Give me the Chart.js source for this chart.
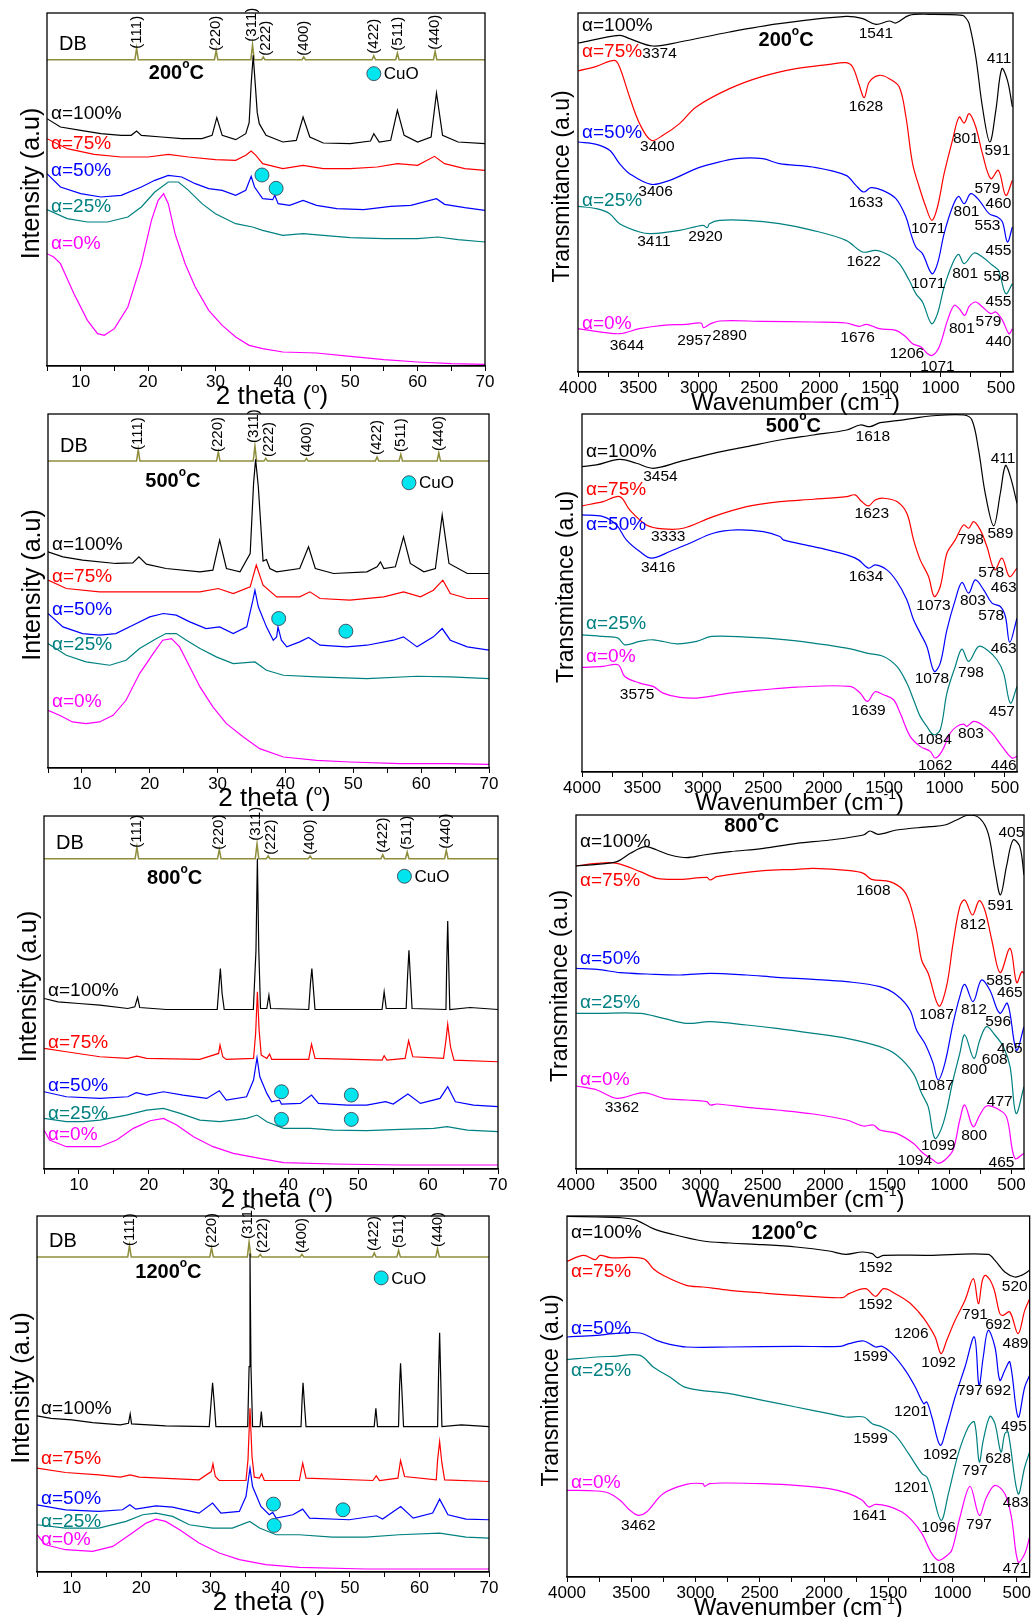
<!DOCTYPE html>
<html>
<head>
<meta charset="utf-8">
<script src="https://cdn.jsdelivr.net/npm/chart.js@4.4.0/dist/chart.umd.min.js"></script>
<style>
  body { margin: 0; background: #fff; width: 1032px; height: 1617px; position: relative; overflow: hidden; }
  canvas { position: absolute; }
</style>
</head>
<body>
<script>
// ---- series names / colours ----
const seriesNames = ['α=100%', 'α=75%', 'α=50%', 'α=25%', 'α=0%'];
const seriesColors = ['#000000', '#ff0000', '#0000ff', '#008080', '#ff00ff'];

// ---- tick labels ----
const xrdTicks = [10, 20, 30, 40, 50, 60, 70];
const irTicks = [4000, 3500, 3000, 2500, 2000, 1500, 1000, 500];

// ---- DB reference pattern (spinel) ----
const dbPeaks = [18.3, 30.1, 35.5, 37.1, 43.1, 53.5, 57.0, 62.6];
const dbHkl = ['(111)', '(220)', '(311)', '(222)', '(400)', '(422)', '(511)', '(440)'];
const dbHeights = [35, 28, 45, 8, 8, 12, 20, 25];

// ---- XRD 200 C: [2theta, intensity a.u.] ----
const xrd200_100 = [[5,742],[7,717],[10,707],[13,697],[16,692],[17.5,692],[18.3,705],[19,692],[22,687],[25,682],[28,682],[29.5,692],[30.2,745],[31,692],[33,679],[34.5,697],[35,730],[35.3,847],[35.6,932],[35.9,847],[36.2,760],[36.5,727],[37.5,692],[40,672],[42,677],[43,747],[44,687],[46,669],[50,667],[53,675],[53.5,697],[54.3,672],[56,677],[57,767],[58,692],[60,672],[62,687],[62.8,819],[63.7,692],[66,672],[70,667]];
const xrd200_75 = [[5,682],[8,652],[12,635],[16,627],[20,627],[23,635],[26,627],[30,619],[33,617],[34.5,632],[35.3,645],[36,632],[37,607],[40,592],[43,602],[46,592],[50,592],[54,597],[57,607],[60,602],[62.5,629],[64,607],[67,592],[70,587]];
const xrd200_50 = [[5,577],[7,537],[10,517],[13,507],[16,512],[19,537],[21,557],[23,572],[25,567],[27,547],[29,532],[31,527],[33,512],[34.5,527],[35.3,569],[35.8,537],[37,502],[38.5,499],[38.8,512],[39.3,487],[41,482],[43,497],[45,482],[48,472],[52,469],[56,479],[59,482],[62.8,502],[64,485],[67,475],[70,467]];
const xrd200_25 = [[5,469],[8,442],[11,432],[14,432],[17,447],[19,477],[21,522],[23,552],[24.5,552],[26,527],[28,487],[30,457],[33,427],[35.5,417],[37,407],[40,392],[43,397],[46,392],[50,385],[55,382],[60,382],[63,387],[66,379],[70,372]];
const xrd200_0 = [[5,337],[6,327],[7,307],[9,217],[11,137],[12.5,97],[13.5,92],[15,112],[17,177],[19,307],[20.5,437],[21.5,497],[22.3,517],[23,487],[24,397],[25.5,307],[27,237],[29,167],[31,122],[33,87],[35,62],[37,52],[40,42],[45,39],[50,29],[55,19],[60,12],[65,7],[70,5]];

// ---- XRD 500 C ----
const xrd500_100 = [[5,648],[7.2,633],[10.1,623],[15,613],[17.5,615],[18.4,633],[19.5,611],[22.4,598],[27.4,588],[29.3,593],[30.3,683],[31.3,598],[33.3,588],[34.8,643],[35.3,853],[35.6,925],[36,843],[36.7,620],[37.2,625],[37.7,598],[38.7,588],[42.1,598],[43.4,663],[44.4,598],[47.1,583],[52,588],[53.5,603],[54,618],[54.5,598],[56.2,603],[57.4,693],[58.4,613],[60.4,588],[62.1,598],[63.1,758],[64.1,613],[66.8,583],[70,583]];
const xrd500_75 = [[5,563],[7.7,538],[12.6,528],[20,528],[27.4,528],[30.1,538],[32.3,523],[34.8,543],[35.7,608],[36.7,548],[38.7,513],[42.1,513],[43.6,528],[45.1,508],[49.5,503],[54.5,513],[57.4,528],[59.9,513],[61.8,533],[63.2,563],[64.3,523],[66.8,508],[70,508]];
const xrd500_50 = [[5,463],[7.2,423],[10.1,403],[12.6,398],[15,403],[17.5,428],[20,453],[22,463],[23.9,458],[25.9,438],[28.3,418],[30.3,423],[32.3,403],[34.3,423],[35.2,503],[35.5,533],[36,483],[37.2,423],[38.2,383],[38.7,393],[38.9,423],[39.4,383],[40.2,363],[42.1,378],[43.4,391],[45.1,368],[49,363],[52,368],[55.9,383],[57.4,393],[59.4,363],[61.8,393],[63.1,418],[64.3,383],[66.8,363],[70,353]];
const xrd500_25 = [[5,373],[7.7,338],[10.6,318],[14.1,308],[16.5,323],[18.5,358],[21,388],[22.4,403],[23.9,403],[25.4,383],[27.4,358],[29.8,333],[32.3,313],[35.5,318],[37.2,293],[39.7,278],[44.6,273],[52,268],[59.4,275],[64.3,273],[70,268]];
const xrd500_0 = [[5,173],[6.7,158],[8.6,138],[10.6,133],[12.6,138],[14.6,158],[16.5,203],[18.5,283],[20.5,343],[21.9,383],[23.2,388],[24.4,363],[25.9,303],[27.4,243],[29.3,183],[31.3,133],[33.8,93],[36.2,58],[39.7,33],[44.6,23],[49.5,18],[56.9,13],[64.3,13],[70,11]];

// ---- XRD 800 C ----
const xrd800_100 = [[5,512],[7,502],[10,497],[13,492],[17,482],[18,487],[18.4,515],[18.7,485],[22.5,479],[27.3,479],[29.8,479],[30.05,547],[30.25,602],[30.5,527],[30.8,479],[34.97,479],[35.35,657],[35.55,932],[35.75,657],[36,482],[36.9,482],[37.2,522],[37.45,482],[42.9,479],[43.15,557],[43.35,602],[43.55,547],[43.8,479],[53.4,479],[53.7,532],[54,482],[56.85,482],[57.05,577],[57.25,657],[57.45,577],[57.7,482],[62.55,479],[62.65,607],[62.8,745],[62.95,607],[63.1,479],[66,485],[70,479]];
const xrd800_75 = [[5,362],[8.2,352],[13,337],[17,332],[18.3,339],[19.7,332],[27.3,329],[30,347],[30.2,372],[30.6,337],[31.1,329],[35,332],[35.3,407],[35.55,532],[35.8,417],[36.1,342],[36.9,332],[37.3,345],[37.6,329],[42.9,329],[43.3,375],[43.8,332],[53.4,327],[53.7,340],[54.1,327],[56.7,332],[57.2,385],[57.8,337],[62.2,332],[62.55,387],[62.8,435],[63.2,367],[63.7,327],[70,322]];
const xrd800_50 = [[5,232],[8.2,217],[13,212],[17,217],[18.2,229],[19.7,222],[22.1,232],[24.9,222],[28.3,212],[30.1,235],[31.1,207],[34,217],[35,267],[35.5,334],[35.9,277],[36.9,227],[37.6,202],[38.7,207],[39,195],[41.7,197],[43.3,222],[44.3,197],[48.4,192],[51.2,192],[53.9,202],[55,195],[57.1,225],[58.9,197],[61.7,212],[62.8,247],[63.9,202],[66.5,192],[70,187]];
const xrd800_25 = [[5,152],[8.2,142],[10.6,142],[13,147],[16.8,162],[19.7,177],[22.1,182],[24.5,167],[27.3,147],[30.2,142],[32.1,147],[34,152],[35.5,162],[36.9,142],[39.3,122],[43.1,122],[46.4,117],[51.2,115],[56,119],[60.8,122],[62.7,127],[65.6,117],[70,112]];
const xrd800_0 = [[5,117],[5.8,87],[8.2,67],[13,67],[15.4,87],[17.8,122],[20.2,145],[22.1,152],[24,132],[26.4,97],[29.2,67],[32.1,47],[35.9,32],[39.3,19],[46.4,15],[56,12],[70,12]];

// ---- XRD 1200 C ----
const xrd1200_100 = [[5,469],[7,462],[10,457],[13,449],[17,442],[18.15,447],[18.4,475],[18.6,445],[23.5,439],[29.77,437],[30.06,517],[30.25,569],[30.49,507],[30.73,437],[35.3,437],[35.5,617],[35.63,957],[35.77,617],[36,437],[37.07,437],[37.26,482],[37.45,437],[42.97,437],[43.12,517],[43.26,569],[43.45,507],[43.69,437],[53.49,437],[53.73,492],[53.97,437],[56.99,437],[57.14,557],[57.28,627],[57.47,547],[57.71,437],[62.61,437],[62.75,597],[62.9,719],[63.04,597],[63.23,437],[66.02,442],[70,437]];
const xrd1200_75 = [[5,312],[9.1,299],[13.9,292],[17,285],[18.4,292],[19.7,285],[28.3,277],[30.06,302],[30.3,325],[30.64,287],[31.2,275],[35.05,275],[35.34,337],[35.63,492],[35.92,347],[36.25,285],[36.97,282],[37.31,295],[37.69,275],[42.73,275],[43.21,327],[43.69,282],[53.3,275],[53.78,289],[54.26,275],[56.9,282],[57.28,335],[57.86,287],[62.42,277],[62.61,337],[62.9,392],[63.23,327],[63.62,277],[70,272]];
const xrd1200_50 = [[5,202],[9.1,187],[13.9,182],[17.3,187],[18.35,202],[19.2,189],[22.1,199],[24.5,195],[28.3,177],[30.25,207],[31.45,177],[34.1,182],[35.05,227],[35.63,312],[36,257],[37.2,197],[38.4,172],[38.9,179],[39.4,162],[41.8,172],[43.2,189],[44.2,162],[49.9,157],[53.8,169],[54.7,159],[57.3,197],[59.1,162],[61.9,177],[62.9,219],[64.1,172],[66.7,159],[70,157]];
const xrd1200_25 = [[5,142],[9.1,132],[13.9,132],[17.8,152],[20.2,172],[22.1,177],[24.5,167],[26.9,142],[30.25,132],[33.1,132],[35.6,152],[37,132],[39.4,112],[42.7,112],[47.5,105],[52.3,105],[57.1,112],[62.9,117],[66.7,105],[70,102]];
const xrd1200_0 = [[5,112],[6.2,82],[9.1,67],[13,62],[15.9,77],[18.7,117],[20.7,147],[22.1,159],[23.5,152],[25.5,127],[28.3,87],[31.2,57],[34.1,37],[37.9,22],[42.7,14],[52.3,9],[70,9]];

// ---- FTIR 200 C: [wavenumber, transmittance a.u.] ----
const ir200_100 = [[4000,987],[3656,1010],[3573,1000],[3380,978],[3160,990],[2746,1020],[2333,1045],[1782,1067],[1644,1060],[1534,1043],[1424,1053],[1369,1047],[1259,1070],[1094,1073],[818,1070],[790,1062],[763,1045],[708,945],[653,795],[592,690],[542,785],[493,910],[446,875],[405,795]];
const ir200_75 = [[4000,903],[3848,917],[3697,935],[3656,915],[3573,825],[3490,745],[3394,695],[3297,710],[3160,745],[3022,795],[2746,850],[2471,887],[2195,910],[1920,923],[1782,928],[1727,915],[1672,860],[1631,823],[1589,870],[1507,890],[1424,880],[1341,855],[1286,765],[1231,625],[1176,555],[1121,495],[1071,455],[1025,495],[970,595],[901,695],[846,765],[804,747],[763,775],[708,735],[653,655],[584,580],[521,605],[460,530],[405,575]];
const ir200_50 = [[4000,690],[3848,683],[3738,665],[3656,625],[3573,595],[3394,563],[3242,575],[3022,610],[2884,625],[2691,640],[2471,640],[2333,625],[2058,615],[1782,590],[1700,560],[1636,540],[1576,553],[1479,545],[1369,520],[1286,465],[1245,415],[1204,375],[1149,355],[1071,295],[1025,325],[970,415],[901,495],[851,527],[804,505],[749,535],[680,515],[598,475],[529,465],[487,450],[446,390],[405,435]];
const ir200_25 = [[4000,497],[3848,490],[3738,475],[3656,445],[3490,420],[3394,415],[3160,425],[2967,440],[2930,433],[2912,445],[2829,455],[2609,455],[2333,445],[2058,425],[1782,395],[1644,360],[1534,365],[1424,350],[1341,325],[1259,275],[1204,235],[1149,210],[1074,145],[1025,175],[970,255],[901,325],[851,353],[804,325],[722,357],[653,345],[570,320],[520,305],[460,235],[405,265]];
const ir200_0 = [[4000,130],[3848,122],[3656,115],[3490,130],[3297,140],[3105,143],[2981,147],[2961,133],[2912,143],[2829,153],[2471,152],[2058,150],[1782,147],[1672,137],[1611,143],[1507,130],[1369,125],[1286,105],[1231,85],[1162,75],[1107,55],[1066,50],[1011,75],[942,155],[887,200],[846,190],[799,170],[763,197],[708,210],[653,195],[584,175],[542,180],[487,155],[433,115],[405,130]];

// ---- FTIR 500 C ----
const ir500_100 = [[4000,917],[3881,922],[3688,939],[3550,927],[3411,912],[3190,932],[2914,957],[2638,977],[2362,997],[2085,1012],[1809,1027],[1698,1042],[1616,1037],[1533,1049],[1394,1055],[1256,1062],[1118,1069],[842,1072],[773,1057],[718,967],[663,837],[593,739],[538,837],[496,920],[455,887],[400,807]];
const ir500_75 = [[4000,799],[3826,812],[3688,827],[3605,787],[3467,742],[3329,730],[3163,732],[2914,767],[2638,797],[2362,812],[2085,819],[1809,827],[1740,832],[1685,812],[1629,799],[1574,817],[1505,822],[1394,812],[1312,777],[1256,697],[1201,637],[1132,587],[1085,527],[1035,557],[980,657],[911,697],[842,742],[800,732],[759,752],[704,727],[649,677],[585,607],[524,642],[463,587],[400,612]];
const ir500_50 = [[4000,772],[3826,767],[3715,742],[3633,697],[3522,662],[3425,642],[3273,662],[3108,687],[2914,717],[2721,727],[2500,722],[2362,707],[2334,697],[2085,677],[1809,652],[1712,637],[1629,612],[1574,622],[1477,607],[1394,572],[1312,517],[1256,457],[1201,417],[1146,377],[1085,302],[1035,327],[980,427],[911,517],[856,569],[800,537],[745,577],[676,547],[607,507],[538,497],[496,467],[460,389],[400,462]];
const ir500_25 = [[4000,412],[3826,407],[3702,402],[3646,382],[3522,392],[3411,397],[3218,385],[3052,392],[2928,407],[2638,405],[2306,397],[2085,387],[1809,372],[1643,357],[1505,347],[1394,317],[1312,267],[1256,217],[1201,167],[1146,137],[1091,112],[1035,127],[980,237],[911,317],[856,369],[800,332],[718,377],[649,367],[566,337],[511,297],[455,207],[400,257]];
const ir500_0 = [[4000,314],[3826,317],[3702,322],[3646,287],[3522,267],[3411,257],[3329,237],[3190,224],[3052,222],[2942,227],[2776,237],[2500,247],[2223,255],[1781,257],[1698,237],[1638,212],[1574,241],[1505,232],[1422,217],[1367,177],[1284,107],[1201,77],[1118,62],[1077,42],[1022,62],[952,117],[897,137],[842,144],[814,137],[759,152],[690,142],[607,117],[524,77],[442,42],[400,47]];

// ---- FTIR 800 C ----
const ir800_100 = [[4000,909],[3831,914],[3671,922],[3564,947],[3444,967],[3350,957],[3243,942],[3109,934],[2975,942],[2761,952],[2494,962],[2226,977],[1959,987],[1691,1002],[1638,1014],[1571,1004],[1424,1017],[1156,1027],[1036,1032],[942,1047],[841,1062],[755,1052],[688,1007],[634,897],[589,822],[541,907],[488,987],[434,967],[400,882]];
const ir800_75 = [[4000,909],[3831,917],[3671,917],[3484,892],[3350,872],[3163,869],[2949,875],[2922,867],[2868,877],[2494,895],[2226,899],[2093,902],[1799,895],[1691,887],[1625,869],[1478,862],[1371,837],[1317,797],[1264,717],[1223,627],[1170,587],[1084,489],[1023,547],[970,677],[916,787],[876,807],[814,762],[760,805],[715,777],[659,687],[592,589],[512,662],[459,559],[418,592],[400,587]];
const ir800_50 = [[4000,602],[3831,599],[3644,589],[3430,585],[3163,582],[2922,587],[2628,582],[2387,575],[2093,569],[1825,562],[1558,547],[1424,522],[1317,477],[1264,417],[1197,377],[1130,317],[1090,267],[1036,317],[970,437],[916,517],[876,554],[809,502],[742,567],[675,537],[595,467],[533,497],[461,357],[400,427]];
const ir800_25 = [[4000,467],[3831,467],[3484,467],[3296,452],[3109,437],[2922,442],[2628,432],[2387,422],[2093,407],[1825,392],[1558,367],[1424,342],[1290,287],[1223,227],[1170,187],[1116,92],[1049,137],[970,267],[916,347],[876,402],[803,332],[755,387],[701,427],[634,402],[566,367],[512,307],[464,167],[400,247]];
const ir800_0 = [[4000,249],[3831,237],[3671,212],[3457,229],[3296,212],[3109,207],[2949,202],[2922,192],[2868,195],[2628,185],[2387,177],[2093,165],[1825,147],[1691,129],[1611,132],[1558,117],[1424,107],[1290,77],[1210,47],[1130,27],[1090,17],[1036,27],[970,57],[916,147],[876,192],[809,127],[755,162],[701,189],[621,182],[541,157],[474,32],[400,47]];

// ---- FTIR 1200 C ----
const ir1200_100 = [[4000,1082],[3768,1080],[3587,1078],[3458,1070],[3329,1045],[3200,1030],[2942,1008],[2735,1002],[2477,997],[2219,990],[1961,978],[1832,968],[1703,975],[1625,970],[1587,958],[1535,965],[1187,965],[723,968],[670,950],[593,915],[516,900],[464,905],[400,920]];
const ir1200_75 = [[4000,947],[3871,965],[3781,952],[3742,965],[3664,958],[3406,955],[3329,925],[3252,905],[3071,875],[2942,870],[2735,860],[2477,852],[2219,845],[1858,838],[1806,850],[1677,865],[1600,842],[1535,865],[1445,850],[1342,825],[1264,795],[1213,770],[1187,755],[1135,720],[1089,670],[1045,710],[980,770],[903,830],[838,895],[799,820],[768,890],[742,905],[683,870],[632,790],[606,785],[554,795],[490,730],[438,800],[400,835]];
const ir1200_50 = [[4000,720],[3768,725],[3639,730],[3432,732],[3303,710],[3200,698],[3071,690],[2735,690],[2219,692],[1871,692],[1806,700],[1690,708],[1600,690],[1548,692],[1471,670],[1367,620],[1290,570],[1225,520],[1200,525],[1161,480],[1096,395],[1045,450],[980,540],[903,630],[830,720],[794,575],[761,660],[723,740],[670,690],[632,590],[593,620],[554,645],[490,480],[438,570],[400,605]];
const ir1200_25 = [[4000,652],[3768,660],[3639,662],[3432,665],[3329,630],[3200,600],[3071,568],[2735,550],[2477,530],[2219,510],[1961,490],[1832,480],[1690,480],[1625,460],[1548,450],[1445,425],[1342,370],[1238,310],[1200,300],[1161,260],[1089,170],[1032,250],[955,370],[877,450],[830,465],[792,345],[761,410],[709,482],[670,460],[623,375],[593,430],[568,435],[490,250],[438,330],[400,375]];
const ir1200_0 = [[4000,260],[3768,258],[3677,252],[3587,230],[3510,200],[3445,185],[3381,195],[3252,250],[3071,278],[2942,280],[2929,272],[2890,280],[2735,282],[2477,280],[2219,275],[1961,265],[1806,250],[1703,230],[1651,210],[1600,218],[1497,212],[1393,195],[1316,170],[1238,130],[1161,70],[1109,50],[1058,60],[1006,80],[942,180],[864,272],[792,185],[735,240],[670,275],[593,250],[542,180],[490,45],[438,70],[400,120]];

// ---- FTIR band labels: [text, wavenumber, y] ----
const ir200_labels = [['3374',3325,955],['1541',1534,1015],['411',515,940],['591',529,663],['3400',3344,675],['1628',1617,795],['801',790,700],['579',611,550],['460',520,505],['3406',3358,540],['1633',1617,508],['1071',1102,430],['801',785,480],['553',611,438],['455',520,365],['3411',3372,390],['2920',2945,405],['1622',1636,330],['1071',1102,265],['801',796,295],['558',537,285],['455',520,210],['3644',3595,80],['2957',3036,93],['2890',2746,110],['1676',1686,102],['1206',1278,55],['1071',1025,15],['801',823,130],['579',603,150],['440',520,90]];
const ir500_labels = [['3454',3351,887],['1618',1593,1007],['411',516,942],['589',538,715],['3333',3287,705],['1623',1602,777],['798',781,697],['578',613,597],['463',510,552],['3416',3370,614],['1634',1649,585],['1073',1091,499],['803',765,515],['578',613,469],['463',510,369],['1078',1104,279],['798',781,297],['457',524,182],['3575',3544,232],['1639',1629,185],['1084',1082,97],['803',781,115],['1062',1077,19],['446',510,19]];
const ir800_labels = [['405',501,1009],['591',589,789],['1608',1611,835],['812',809,732],['585',600,565],['465',514,529],['1087',1103,462],['812',803,477],['596',608,442],['465',514,362],['1087',1103,249],['800',801,297],['608',635,329],['477',595,202],['3362',3631,185],['1099',1090,69],['800',801,99],['1094',1277,25],['465',581,19]];
const ir1200_labels = [['1592',1600,928],['520',516,872],['1592',1600,817],['791',825,788],['692',645,757],['1206',1321,730],['1092',1109,642],['489',510,700],['1599',1638,662],['797',864,560],['692',645,560],['1201',1321,495],['1092',1096,368],['495',523,450],['1599',1638,415],['797',825,318],['628',645,355],['1201',1321,268],['1096',1109,148],['483',508,222],['3462',3445,155],['1641',1646,185],['797',794,158],['1108',1109,25],['471',510,25]];

const FONT = "'Liberation Sans', Arial, Helvetica, sans-serif";

const panels = [
  { kind: 'xrd', temp: '200', col: 0, box: [47, 13, 485, 366], yMax: 1059,
    series: [xrd200_100, xrd200_75, xrd200_50, xrd200_25, xrd200_0], db: 919,
    labelY: [757, 667, 585, 477, 367], title: [24.2, 877], cuo: [53.5, 877],
    marks: [[36.9, 573], [39.0, 533]] },
  { kind: 'ir', temp: '200', col: 1, box: [578, 13, 1013, 372], yMax: 1077,
    series: [ir200_100, ir200_75, ir200_50, ir200_25, ir200_0],
    labelY: [1040, 960, 717, 515, 145], title: [2278, 995], bands: ir200_labels },
  { kind: 'xrd', temp: '500', col: 0, box: [48, 414, 489, 768], yMax: 1061,
    series: [xrd500_100, xrd500_75, xrd500_50, xrd500_25, xrd500_0], db: 920,
    labelY: [668, 573, 473, 368, 198], title: [23.4, 858], cuo: [58.2, 855],
    marks: [[39.0, 448], [48.9, 410]] },
  { kind: 'ir', temp: '500', col: 1, box: [582, 414, 1017, 772], yMax: 1075,
    series: [ir500_100, ir500_75, ir500_50, ir500_25, ir500_0],
    labelY: [962, 847, 742, 445, 345], title: [2251, 1039], bands: ir500_labels },
  { kind: 'xrd', temp: '800', col: 0, box: [44, 816, 498, 1169], yMax: 1060,
    series: [xrd800_100, xrd800_75, xrd800_50, xrd800_25, xrd800_0], db: 932,
    labelY: [535, 379, 249, 167, 102], title: [23.7, 872], cuo: [56.6, 879],
    marks: [[39.0, 232], [49.0, 222], [39.0, 149], [49.0, 149]] },
  { kind: 'ir', temp: '800', col: 1, box: [576, 815, 1024, 1169], yMax: 1062,
    series: [ir800_100, ir800_75, ir800_50, ir800_25, ir800_0],
    labelY: [982, 865, 632, 499, 269], title: [2588, 1029], bands: ir800_labels },
  { kind: 'xrd', temp: '1200', col: 0, box: [37, 1216, 489, 1572], yMax: 1070,
    series: [xrd1200_100, xrd1200_75, xrd1200_50, xrd1200_25, xrd1200_0], db: 947,
    labelY: [492, 339, 219, 152, 97], title: [23.9, 899], cuo: [54.5, 884],
    marks: [[39.0, 204], [49.0, 187], [39.1, 140]] },
  { kind: 'ir', temp: '1200', col: 1, box: [567, 1216, 1031, 1577], yMax: 1083,
    series: [ir1200_100, ir1200_75, ir1200_50, ir1200_25, ir1200_0],
    labelY: [1032, 917, 745, 620, 282], title: [2309, 1030], bands: ir1200_labels }
];

function setFont(ctx, size, bold) {
  ctx.font = (bold ? 'bold ' : '') + size + 'px ' + FONT;
}

// draw text made of pieces, some raised (superscripts)
function richText(ctx, parts, x, y, align) {
  let w = 0;
  parts.forEach(p => { setFont(ctx, p[1], p[3]); w += ctx.measureText(p[0]).width; });
  let cx = align === 'center' ? x - w / 2 : x;
  ctx.textAlign = 'left';
  parts.forEach(p => {
    setFont(ctx, p[1], p[3]);
    ctx.fillText(p[0], cx, y - p[2]);
    cx += ctx.measureText(p[0]).width;
  });
}

function makeAnnot(p) {
  return {
    id: 'annot',
    afterDraw(chart) {
      const ctx = chart.ctx;
      const a = chart.chartArea;
      const xs = chart.scales.x, ys = chart.scales.y;
      ctx.save();
      ctx.fillStyle = '#000';
      ctx.strokeStyle = '#000';
      ctx.lineWidth = 1.3;
      ctx.strokeRect(a.left, a.top, a.right - a.left, a.bottom - a.top);

      // axis titles
      ctx.textBaseline = 'alphabetic';
      if (p.kind === 'xrd') {
        richText(ctx, [['2 theta (', 26, 0], ['o', 15, 11], [')', 26, 0]], (a.left + a.right) / 2 + 6, a.bottom + 38, 'center');
      } else {
        richText(ctx, [['Wavenumber (cm', 24, 0], ['-1', 14, 11], [')', 24, 0]], (a.left + a.right) / 2, a.bottom + 38, 'center');
      }
      ctx.save();
      ctx.translate(a.left - 15, (a.top + a.bottom) / 2 - 6);
      ctx.rotate(-Math.PI / 2);
      ctx.textAlign = 'center';
      ctx.textBaseline = 'middle';
      setFont(ctx, p.kind === 'xrd' ? 25 : 23);
      ctx.fillText(p.kind === 'xrd' ? 'Intensity (a.u)' : 'Transmitance (a.u)', 0, 0);
      ctx.restore();

      // temperature
      ctx.textBaseline = 'middle';
      richText(ctx, [[p.temp, 20, 0, true], ['o', 12, 9, true], ['C', 20, 0, true]],
        xs.getPixelForValue(p.title[0]), ys.getPixelForValue(p.title[1]), 'center');

      // series labels
      ctx.textAlign = 'left';
      setFont(ctx, 19);
      p.labelY.forEach((v, i) => {
        ctx.fillStyle = seriesColors[i];
        ctx.fillText(seriesNames[i], a.left + 4, ys.getPixelForValue(v));
      });
      ctx.fillStyle = '#000';

      if (p.kind === 'xrd') {
        const yDb = ys.getPixelForValue(p.db);
        setFont(ctx, 20);
        ctx.fillText('DB', a.left + 12, yDb - 15);
        const off = [11, 9, 18, 4, 4, 6, 9, 10];
        const dx = [0, 0, -1, 3, 0, 0, 0, 0];
        setFont(ctx, 15);
        dbHkl.forEach((h, i) => {
          ctx.save();
          ctx.translate(xs.getPixelForValue(dbPeaks[i]) + dx[i], yDb - off[i]);
          ctx.rotate(-Math.PI / 2);
          ctx.textAlign = 'left';
          ctx.textBaseline = 'middle';
          ctx.fillText(h, 0, 0);
          ctx.restore();
        });
        const dot = (cx, cy) => {
          ctx.beginPath();
          ctx.arc(cx, cy, 7, 0, Math.PI * 2);
          ctx.fillStyle = '#00e5ee';
          ctx.fill();
          ctx.lineWidth = 0.8;
          ctx.strokeStyle = '#334';
          ctx.stroke();
        };
        const lx = xs.getPixelForValue(p.cuo[0]), ly = ys.getPixelForValue(p.cuo[1]);
        dot(lx, ly);
        ctx.fillStyle = '#000';
        setFont(ctx, 17);
        ctx.textAlign = 'left';
        ctx.fillText('CuO', lx + 10, ly + 1);
        p.marks.forEach(m => dot(xs.getPixelForValue(m[0]), ys.getPixelForValue(m[1])));
      } else {
        setFont(ctx, 15.5);
        ctx.textAlign = 'center';
        p.bands.forEach(b => {
          ctx.fillText(b[0], xs.getPixelForValue(b[1]), ys.getPixelForValue(b[2]));
        });
      }
      ctx.restore();
    }
  };
}

panels.forEach(p => {
  const cl = p.col === 0 ? 0 : 516;
  const cw = 516;
  const [L, T, R, B] = p.box;
  const ct = T - 14;
  const ch = B - T + 14 + 50;
  const canvas = document.createElement('canvas');
  canvas.width = cw;
  canvas.height = ch;
  canvas.style.left = cl + 'px';
  canvas.style.top = ct + 'px';
  document.body.appendChild(canvas);

  const isX = p.kind === 'xrd';
  const datasets = p.series.map((s, i) => ({
    data: s,
    borderColor: seriesColors[i],
    borderWidth: 1.2,
    pointRadius: 0,
    tension: isX ? 0 : 0.35,
    fill: false
  }));
  if (isX) {
    // DB stick pattern on its own baseline
    const dbLine = [[5, p.db]];
    dbPeaks.forEach((pk, i) => {
      dbLine.push([pk - 0.25, p.db], [pk, p.db + dbHeights[i]], [pk + 0.25, p.db]);
    });
    dbLine.push([70, p.db]);
    datasets.push({ data: dbLine, borderColor: '#8e8e3c', borderWidth: 1.5, pointRadius: 0, tension: 0 });
  }

  new Chart(canvas.getContext('2d'), {
    type: 'line',
    data: { datasets },
    options: {
      responsive: false,
      animation: false,
      layout: { padding: { left: L - cl, top: T - ct, right: cl + cw - R, bottom: 50 - 26 } },
      plugins: { legend: { display: false }, tooltip: { enabled: false } },
      scales: {
        x: {
          type: 'linear',
          min: isX ? 5 : 400,
          max: isX ? 70 : 4000,
          reverse: !isX,
          afterFit: s => { s.height = 26; },
          ticks: {
            stepSize: isX ? 5 : 250,
            autoSkip: false,
            maxRotation: 0,
            includeBounds: false,
            color: '#000',
            padding: 1,
            font: { size: 17, family: FONT },
            callback: v => (isX ? xrdTicks : irTicks).includes(v) ? String(v) : ''
          },
          grid: { drawOnChartArea: false, color: '#000', tickLength: 5 },
          border: { color: '#000', width: 1.3 }
        },
        y: { display: false, min: 0, max: p.yMax }
      }
    },
    plugins: [makeAnnot(p)]
  });
});
</script>
</body>
</html>
